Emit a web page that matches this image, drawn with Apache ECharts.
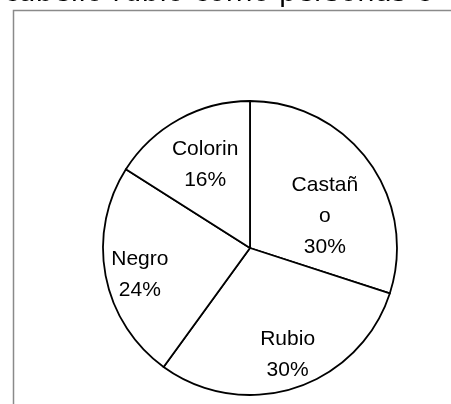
<!DOCTYPE html>
<html>
<head>
<meta charset="utf-8">
<script src="https://cdn.jsdelivr.net/npm/echarts@6/dist/echarts.min.js"></script>
<style>
html,body{margin:0;padding:0;background:#fff;}
#c{width:451px;height:404px;}
</style>
</head>
<body>
<div id="c"></div>
<script>
const categories = ["Castañ\no", "Rubio", "Negro", "Colorin"];
const values = [30, 30, 24, 16];
const titleText = "cabello rubio como personas c";

const labelOffsets = [[13, 13], [14, 34], [-35, 12], [-8, -16]];

const chart = echarts.init(document.getElementById('c'), null, {renderer: 'canvas'});
chart.setOption({
  backgroundColor: '#fff',
  animation: false,
  graphic: [
    {
      type: 'polyline',
      shape: {points: [[13.5, 404], [13.5, 10.5], [451, 10.5]]},
      style: {stroke: '#8a8a8a', lineWidth: 1.5, fill: null},
      z: 1
    },
    {
      type: 'text',
      x: 3,
      y: 8,
      style: {text: titleText, font: '28px "DejaVu Sans"', fill: '#000', verticalAlign: 'bottom'},
      z: 5
    }
  ],
  series: [{
    type: 'pie',
    center: [250, 248],
    radius: [0, 147],
    startAngle: 90,
    clockwise: true,
    avoidLabelOverlap: false,
    itemStyle: {color: '#fff', borderColor: '#000', borderWidth: 1.8},
    emphasis: {disabled: true},
    label: {
      show: true,
      position: 'inside',
      color: '#000',
      fontFamily: 'Liberation Sans',
      fontSize: 21,
      lineHeight: 31,
      align: 'center',
      formatter: p => p.name + '\n' + p.value + '%'
    },
    labelLine: {show: false},
    data: categories.map((c, i) => ({
      name: c,
      value: values[i],
      label: {offset: labelOffsets[i]}
    }))
  }]
});
</script>
</body>
</html>
